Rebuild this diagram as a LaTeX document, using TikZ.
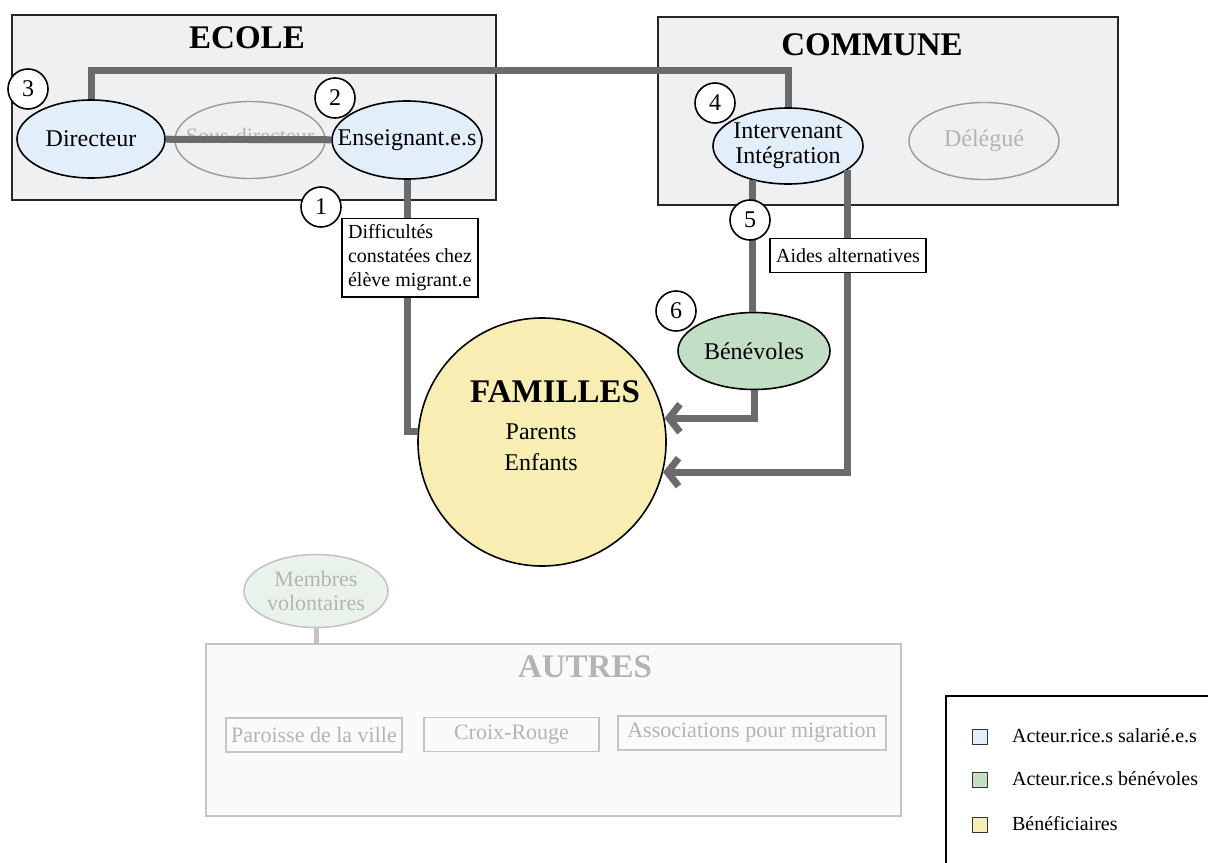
\documentclass[tikz,border=0pt]{standalone}
\usepackage{fontspec}
\setmainfont{Liberation Serif}
\usepackage{tikz}
\usetikzlibrary{positioning,arrows.meta,calc,shapes.geometric}
\definecolor{ZoneGray}{HTML}{EFF0F2}
\definecolor{PaidBlue}{HTML}{E2EFFA}
\definecolor{FreeGreen}{HTML}{C2DEC5}
\definecolor{FamYellow}{HTML}{F8EDB3}
\definecolor{LinkGray}{HTML}{6B6B6B}
\definecolor{FadeLine}{HTML}{C4C4C4}
\definecolor{FadeText}{HTML}{B4B4B4}

\begin{document}
\begin{tikzpicture}[
        x=0.5pt, y=-0.5pt,
        zone/.style={
            draw=black!85,
            fill=ZoneGray,
            line width=0.9pt,
            inner sep=0pt
        },
        fadezone/.style={
            draw=FadeLine,
            fill=black!2,
            line width=0.9pt,
            inner sep=0pt
        },
        zonetitle/.style={font=\fontsize{16.5}{18}\selectfont\bfseries},
        actor/.style={
            ellipse,
            draw=black,
            line width=0.8pt,
            fill=PaidBlue,
            align=center,
            font=\fontsize{12}{14}\selectfont,
            inner sep=0pt,
            minimum width=75pt,
            minimum height=39pt
        },
        ghost/.style={
            ellipse,
            draw=black!40,
            line width=0.7pt,
            fill=ZoneGray,
            text=FadeText,
            font=\fontsize{12}{14}\selectfont,
            inner sep=0pt,
            minimum width=75pt,
            minimum height=38.5pt
        },
        num/.style={
            circle,
            draw=black,
            line width=0.8pt,
            fill=white,
            font=\fontsize{12}{14}\selectfont,
            inner sep=0pt,
            minimum size=20pt
        },
        tag/.style={
            draw=black,
            line width=0.8pt,
            fill=white,
            align=left,
            font=\fontsize{10}{12}\selectfont,
            inner sep=3pt
        },
        subbox/.style={
            draw=FadeLine,
            line width=0.9pt,
            fill=black!2,
            text=FadeText,
            font=\fontsize{11}{13}\selectfont,
            inner sep=0pt,
            minimum height=17pt
        },
        swatch/.style={
            draw=black!80,
            line width=0.6pt,
            inner sep=0pt,
            minimum size=7.5pt
        },
        legtext/.style={font=\fontsize{10}{12}\selectfont, anchor=west},
        link/.style={line width=3.5pt, LinkGray},
        arr/.style={link, -{Straight Barb[length=5.5pt,width=14pt]}}
    ]
        \useasboundingbox (0,0) rectangle (1208,862);

        % zones
        \node[zone, minimum width=242pt, minimum height=92.5pt] (ecole) at (254,107.5) {};
        \node[zonetitle] (ecoleT) at (247,38) {ECOLE};
        \node[zone, minimum width=230pt, minimum height=94pt] (commune) at (888,111) {};
        \node[zonetitle] (communeT) at (872,45) {COMMUNE};

        % acteurs
        \node[ghost, font=\fontsize{11}{13}\selectfont, inner xsep=-8pt] (sousdir) at (250,140) {\raisebox{4pt}{Sous-directeur}};
        \node[actor, minimum width=74pt] (dir) at (91,139) {Directeur};
        \node[actor, inner xsep=-9pt] (ens) at (407,140) {Enseignant.e.s};
        \node[actor, minimum height=38pt, inner xsep=-2pt] (inter) at (788,146) {Intervenant\\[-1.5pt]Intégration};
        \node[ghost] (deleg) at (984,141) {Délégué};
        \node[actor, fill=FreeGreen, minimum width=76pt, minimum height=38.5pt] (ben) at (754,351) {Bénévoles};
        \node[circle, draw=black, line width=0.8pt, fill=FamYellow, minimum size=124pt] (fam) at (542,442) {};
        \node[zonetitle] (famT) at (555,392) {FAMILLES};
        \node[font=\fontsize{12}{14}\selectfont] (parents) at (541,432) {Parents};
        \node[font=\fontsize{12}{14}\selectfont] (enfants) at (541,462) {Enfants};

        % liens
        \draw[link] (dir) -- (ens);
        \draw[link] (dir.north) |- (inter.north |- 0,70) -- (inter.north);
        \draw[link] (ens.south) |- (fam.175);
        \draw[link] (inter.224) -- (inter.224 |- ben.north);
        \draw[arr] (ben.south) |- (fam.11);
        \draw[arr] (inter.-22) |- (fam.-14);

        \node[tag] (diff) at (410,257.5) {Difficultés\\constatées chez\\élève migrant.e};
        \node[tag, inner ysep=5pt] (aides) at (848,255.5) {Aides alternatives};

        \node[num] (n1) at (321,207) {1};
        \node[num] (n2) at (335,98) {2};
        \node[num] (n3) at (28,89) {3};
        \node[num] (n4) at (715,103) {4};
        \node[num] (n5) at (750,220) {5};
        \node[num] (n6) at (676,311) {6};

        % autres
        \node[ellipse, draw=FadeLine, line width=0.8pt, fill=FreeGreen!35, text=FadeText, align=center,
              font=\fontsize{11}{12}\selectfont, inner sep=0pt, minimum width=72pt, minimum height=36.5pt]
              (membres) at (316,591) {Membres\\volontaires};
        \node[fadezone, minimum width=347.5pt, minimum height=86pt] (autres) at (553.5,730) {};
        \draw[line width=2.5pt, FadeLine] (membres.south) -- (membres.south |- autres.north);
        \node[zonetitle, text=FadeText] (autresT) at (585,667) {AUTRES};
        \node[subbox, minimum width=88pt] (paroisse) at (314,735) {Paroisse de la ville};
        \node[subbox, minimum width=87.5pt] (croix) at (511.5,734.5) {Croix-Rouge};
        \node[subbox, minimum width=134pt] (assoc) at (752,733) {Associations pour migration};

        % legende
        \node[draw=black, line width=0.9pt, fill=white, minimum width=150pt, minimum height=100pt, anchor=north west] (legend) at (945,695) {};
        \node[swatch, fill=PaidBlue] (sw1) at (980,737) {};
        \node[legtext] (lg1) at (1005,736) {Acteur.rice.s salarié.e.s};
        \node[swatch, fill=FreeGreen] (sw2) at (980,780) {};
        \node[legtext] (lg2) at (1005,779) {Acteur.rice.s bénévoles};
        \node[swatch, fill=FamYellow] (sw3) at (980,825) {};
        \node[legtext] (lg3) at (1005,824) {Bénéficiaires};
    \end{tikzpicture}
\end{document}
